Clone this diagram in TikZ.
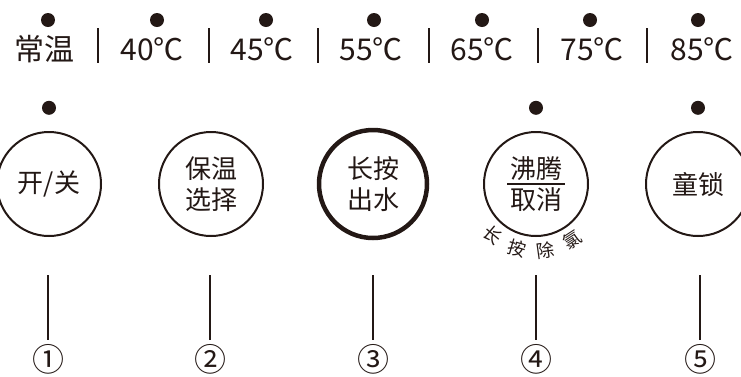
\documentclass[tikz,border=0pt]{standalone}
\usepackage{fontspec}
\setmainfont{Noto Sans CJK SC}
\usepackage{tikz}
\usetikzlibrary{positioning}
\definecolor{ink}{RGB}{35,24,21}

\begin{document}
\begin{tikzpicture}[x=1pt, y=-1pt, auto]
    % Styles
    \tikzstyle{lamp} = [circle, fill=ink, inner sep=0pt, minimum size=14pt]
    \tikzstyle{temp} = [anchor=base, inner sep=0pt, text=ink, font=\fontsize{30}{30}\selectfont]
    \tikzstyle{sep} = [draw=ink, line width=2.2pt]
    \tikzstyle{button} = [circle, draw=ink, line width=2pt, minimum size=104pt, inner sep=0pt, align=center, text=ink, font=\fontsize{26}{31}\selectfont]
    \tikzstyle{mainbutton} = [button, line width=4.5pt, minimum size=108pt]
    \tikzstyle{curved} = [inner sep=0pt, text=ink, font=\fontsize{18}{18}\selectfont]
    \tikzstyle{stem} = [draw=ink, line width=2.4pt]
    \tikzstyle{num} = [inner sep=0pt, text=ink, font=\fontsize{32}{32}\selectfont]

    \useasboundingbox (0,0) rectangle (741,376);

    % Temperature lamps
    \node (lampT1) [lamp] at (48,20) {};
    \node (lampT2) [lamp] at (157,20) {};
    \node (lampT3) [lamp] at (266,20) {};
    \node (lampT4) [lamp] at (374,20) {};
    \node (lampT5) [lamp] at (482,20) {};
    \node (lampT6) [lamp] at (590,20) {};
    \node (lampT7) [lamp] at (698,20) {};

    % Temperature labels
    \node (normal) [temp] at (44,60) {常温};
    \node (t40) [temp] at (152,60) {40℃};
    \node (t45) [temp] at (262,60) {45℃};
    \node (t55) [temp] at (371,60) {55℃};
    \node (t65) [temp] at (482,60) {65℃};
    \node (t75) [temp] at (592,60) {75℃};
    \node (t85) [temp] at (702,60) {85℃};

    % Separators
    \draw [sep] (98,28) -- (98,63);
    \draw [sep] (209,28) -- (209,63);
    \draw [sep] (318,28) -- (318,63);
    \draw [sep] (429,28) -- (429,63);
    \draw [sep] (538,28) -- (538,63);
    \draw [sep] (647,28) -- (647,63);

    % Buttons
    \node (power) [button] at (49,184) {开/关};
    \node (keepwarm) [button] at (211,184) {保温\\选择};
    \node (dispense) [mainbutton] at (373,184) {长按\\出水};
    \node (boil) [button] at (536,184) {沸腾\\取消};
    \node (childlock) [button] at (698,184) {童锁};
    \draw [ink, line width=1.6pt] ([xshift=-29pt]boil.center) -- ([xshift=29pt]boil.center);

    % Button lamps
    \node (lampPower) [lamp, above=16pt of power] {};
    \node (lampBoil) [lamp, above=16pt of boil] {};
    \node (lampLock) [lamp, above=16pt of childlock] {};

    % Text round the boil button
    \node (dechlor1) [curved, rotate=-40] at ([shift={(230:67pt)}]boil.center) {长};
    \node (dechlor2) [curved, rotate=-16] at ([shift={(254:67pt)}]boil.center) {按};
    \node (dechlor3) [curved, rotate=8] at ([shift={(278:67pt)}]boil.center) {除};
    \node (dechlor4) [curved, rotate=33] at ([shift={(303:67pt)}]boil.center) {氯};

    % Numbers
    \node (num1) [num] at (48,359) {①};
    \node (num2) [num] at (210,359) {②};
    \node (num3) [num] at (373,359) {③};
    \node (num4) [num] at (536,359) {④};
    \node (num5) [num] at (700,359) {⑤};

    % Leader lines
    \coordinate (top1) at (48,275);
    \coordinate (top2) at (210,275);
    \coordinate (top3) at (373,275);
    \coordinate (top4) at (536,275);
    \coordinate (top5) at (700,275);
    \coordinate (end1) at (48,340);
    \coordinate (end2) at (210,340);
    \coordinate (end3) at (373,340);
    \coordinate (end4) at (536,340);
    \coordinate (end5) at (700,340);
    \draw [stem] (top1) -- (end1);
    \draw [stem] (top2) -- (end2);
    \draw [stem] (top3) -- (end3);
    \draw [stem] (top4) -- (end4);
    \draw [stem] (top5) -- (end5);
\end{tikzpicture}
\end{document}
